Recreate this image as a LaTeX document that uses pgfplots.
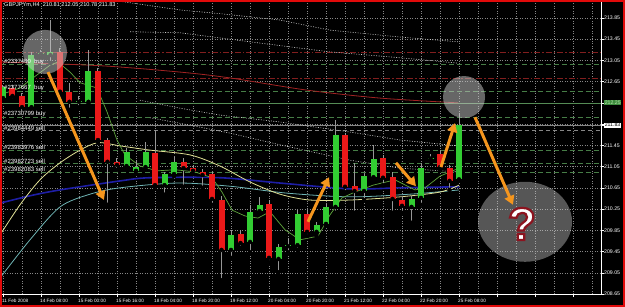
\documentclass[border=0pt]{standalone}
\usepackage{fontspec}
\setmainfont{Liberation Sans}
\usepackage{pgfplots}
\pgfplotsset{compat=1.18}
\usepackage{pgfplotstable}
\usetikzlibrary{arrows.meta}
\definecolor{cgreen}{RGB}{50,205,50}
\definecolor{cred}{RGB}{235,25,25}
\definecolor{wick}{RGB}{150,150,150}
\definecolor{mared}{RGB}{160,35,35}
\definecolor{mayel}{RGB}{225,225,150}
\definecolor{mablue}{RGB}{30,30,165}
\definecolor{macyan}{RGB}{110,180,180}
\definecolor{magreen}{RGB}{95,165,60}
\definecolor{ordgreen}{RGB}{70,125,70}
\definecolor{slred}{RGB}{130,30,30}
\definecolor{lvlgreen}{RGB}{85,140,85}
\definecolor{gridc}{RGB}{135,135,135}
\definecolor{arrowc}{RGB}{245,150,30}
\definecolor{circc}{RGB}{205,205,205}
\definecolor{bred}{RGB}{225,10,10}
\definecolor{boxgreen}{RGB}{60,140,60}
\definecolor{boxgtext}{RGB}{185,230,175}

\pgfplotstableread{
i o h l c
0 212.34 212.59 212.30 212.55
3 212.17 213.21 212.12 213.15
4 213.17 213.25 213.10 213.19
5 213.15 213.81 213.00 213.21
8 212.27 212.38 212.17 212.29
9 212.27 213.25 212.23 212.85
13 211.06 211.40 211.02 211.33
14 210.97 211.17 210.91 211.04
15 211.04 211.51 211.00 211.33
17 210.70 210.95 210.52 210.91
18 210.91 211.23 210.87 211.14
24 209.48 209.86 209.33 209.76
26 209.63 210.33 209.44 210.20
27 210.21 210.48 210.18 210.33
29 209.31 209.59 209.06 209.54
30 209.55 209.70 209.44 209.57
31 209.57 210.23 209.48 210.16
33 209.82 210.01 209.74 209.95
34 209.97 210.35 209.93 210.29
35 210.29 211.93 210.18 211.65
38 210.59 210.91 210.42 210.87
39 210.85 211.46 210.80 211.19
43 210.29 210.50 209.99 210.44
44 210.46 211.12 210.33 211.02
45 211.20 211.29 211.14 211.22
48 210.81 212.05 210.78 211.83
}\greenC

\pgfplotstableread{
i o h l c
1 212.53 212.59 212.30 212.38
2 212.38 212.44 212.06 212.17
6 213.21 213.28 212.40 212.46
7 212.46 212.63 212.12 212.27
10 212.85 212.91 211.51 211.55
11 211.55 211.59 210.33 211.14
12 211.14 211.21 210.99 211.08
16 211.31 211.74 210.67 210.70
19 211.14 211.21 210.67 211.02
20 211.02 211.08 210.91 210.97
21 210.95 211.01 210.65 210.89
22 210.91 210.95 210.33 210.44
23 210.42 210.50 208.91 209.48
25 209.78 209.86 209.52 209.61
28 210.35 210.42 209.25 209.33
32 210.16 210.23 209.74 209.82
36 211.65 211.68 210.57 210.67
37 210.68 211.12 210.18 210.59
40 211.21 211.27 210.70 210.84
41 210.85 210.95 210.18 210.44
42 210.42 210.50 210.18 210.31
46 211.29 211.36 210.99 211.04
47 211.02 211.08 210.61 210.78
}\redC

\begin{document}
\begin{tikzpicture}
\path[use as bounding box] (0,0) rectangle (625pt,307pt);
\fill[black] (0,0) rectangle (625pt,307pt);
\begin{axis}[
  at={(2pt,13pt)}, anchor=south west,
  scale only axis, width=599pt, height=292pt,
  xmin=-0.105, xmax=62.947, ymin=208.65, ymax=214.15,
  axis x line*=bottom, axis y line*=right,
  axis line style={white, line width=0.6pt, -},
  xtick={0,4,...,60},
  xticklabels={11 Feb 2008,14 Feb 08:00,15 Feb 00:00,15 Feb 16:00,18 Feb 04:00,18 Feb 20:00,19 Feb 12:00,20 Feb 04:00,20 Feb 20:00,21 Feb 12:00,22 Feb 04:00,22 Feb 20:00,25 Feb 08:00,{},{},{}},
  minor xtick={2,6,...,62},
  ytick={208.65,209.05,209.45,209.85,210.25,210.65,211.05,211.45,211.85,212.25,212.65,213.05,213.45,213.85},
  yticklabels={208.65,209.05,209.45,209.85,210.25,210.65,211.05,211.45,{},{},212.65,213.05,213.45,213.85},
  extra y ticks={211.83,212.25},
  extra y tick labels={{\setlength{\fboxsep}{0.6pt}\colorbox{white}{\textcolor{black}{211.83}}},{\setlength{\fboxsep}{0.6pt}\colorbox{boxgreen}{\textcolor{boxgtext}{212.25}}}},
  extra y tick style={grid=none},
  grid=both,
  major grid style={gridc, line width=0.5pt, dash pattern=on 0.9pt off 1.6pt},
  minor grid style={gridc, line width=0.5pt, dash pattern=on 0.9pt off 1.6pt},
  tick align=outside, major tick length=3pt, minor tick length=0pt,
  tick style={white, line width=0.5pt},
  xticklabel style={anchor=north west, inner sep=0pt, xshift=-1pt, yshift=-1.5pt, font=\fontsize{4.7}{5}\selectfont, text=white},
  yticklabel style={anchor=west, inner sep=0pt, xshift=0pt, font=\fontsize{5.2}{5.5}\selectfont, text=white},
  clip=true,
]
% horizontal level / order lines
\addplot[slred, line width=0.8pt, dash pattern=on 6pt off 2pt on 1.5pt off 2pt] coordinates {(-1,213.21) (64,213.21)};
\addplot[slred, line width=0.8pt, dash pattern=on 6pt off 2pt on 1.5pt off 2pt] coordinates {(-1,212.72) (64,212.72)};
\addplot[ordgreen, line width=0.6pt, dash pattern=on 5pt off 3pt] coordinates {(-1,212.98) (64,212.98)};
\addplot[ordgreen, line width=0.6pt, dash pattern=on 5pt off 3pt] coordinates {(-1,212.47) (64,212.47)};
\addplot[ordgreen, line width=0.6pt, dash pattern=on 5pt off 3pt] coordinates {(-1,211.98) (64,211.98)};
\addplot[gridc, line width=0.6pt, dash pattern=on 4pt off 3pt] coordinates {(-1,211.74) (64,211.74)};
\addplot[ordgreen, line width=0.6pt, dash pattern=on 5pt off 3pt] coordinates {(-1,211.36) (64,211.36)};
\addplot[ordgreen, line width=0.6pt, dash pattern=on 5pt off 3pt] coordinates {(-1,211.12) (64,211.12)};
\addplot[ordgreen, line width=0.6pt, dash pattern=on 5pt off 3pt] coordinates {(-1,210.95) (64,210.95)};
\addplot[lvlgreen, line width=0.7pt] coordinates {(-1,212.25) (64,212.25)};
\addplot[gridc, line width=0.6pt] coordinates {(-1,211.83) (64,211.83)};
% envelope-like dotted lines
\addplot[white!80!black, line width=0.6pt, dash pattern=on 1pt off 1.5pt] coordinates {(11.26,214.19) (18.63,214.00) (22.84,213.93) (29.16,213.81) (34.42,213.62) (41.79,213.49) (47.89,213.40)};
\addplot[white!80!black, line width=0.6pt, dash pattern=on 1pt off 1.5pt] coordinates {(13.37,213.59) (18.63,213.57) (26.0,213.40) (34.42,213.21) (41.79,213.10) (47.79,213.00)};
\addplot[white!80!black, line width=0.6pt, dash pattern=on 1pt off 1.5pt] coordinates {(14.42,212.30) (18.63,212.15) (22.84,212.02) (29.16,211.89) (36.53,211.70) (41.79,211.55) (47.89,211.44)};
\addplot[white!80!black, line width=0.6pt, dash pattern=on 1pt off 1.5pt] coordinates {(15.47,211.97) (19.68,211.83) (23.89,211.68) (29.16,211.46) (36.53,211.17) (41.79,211.02) (47.89,210.95)};
% moving averages
\addplot[mared, line width=0.8pt, smooth] coordinates {(-0.32,213.02) (10.21,212.95) (18.63,212.83) (23.89,212.72) (32.0,212.49) (39.68,212.34) (47.9,212.25)};
\addplot[mablue, line width=1.6pt, smooth] coordinates {(-0.32,210.36) (2.84,210.50) (6.0,210.61) (12.32,210.78) (15.47,210.84) (22.84,210.84) (29.16,210.74) (36.53,210.63) (41.79,210.65) (48.0,210.67)};
\addplot[macyan, line width=0.8pt, smooth] coordinates {(-0.32,208.95) (2.84,209.67) (6.0,210.29) (9.16,210.53) (12.32,210.65) (18.32,210.74) (23.89,210.68) (29.89,210.55) (36.53,210.48) (42.84,210.53) (48.0,210.61)};
\addplot[mayel, line width=0.8pt, smooth] coordinates {(-0.32,209.76) (1.79,210.33) (3.89,210.80) (6.0,211.12) (8.11,211.36) (10.0,211.50) (12.32,211.44) (15.47,211.36) (19.68,211.27) (22.84,211.06) (26.0,210.76) (29.16,210.53) (32.3,210.42) (36.53,210.42) (41.79,210.48) (46.0,210.57) (48.0,210.70)};
\addplot[magreen, line width=0.7pt] coordinates {(-0.32,212.40) (1.79,212.53) (3.16,212.72) (4.95,212.96) (5.79,213.02) (7.05,212.83) (8.11,212.63) (9.89,212.53) (10.95,212.08) (12.0,211.55) (12.84,211.27) (14.42,211.06) (16.21,210.97) (18.11,210.99) (20.21,210.95) (22.0,210.84) (23.05,210.57) (24.11,210.23) (25.47,210.12) (26.84,210.08) (28.1,210.20) (29.68,209.86) (31.26,209.67) (33.16,209.74) (34.42,210.14) (35.68,210.46) (37.05,210.57) (38.95,210.70) (41.26,210.80) (43.37,210.61) (44.42,210.65) (46.0,210.87) (48.0,211.02)};
% wicks
\addplot[only marks, mark=none, error bars/.cd, y dir=plus, y explicit, error mark=none, error bar style={wick, line width=1pt}] table[x=i, y=l, y error plus expr=\thisrow{h}-\thisrow{l}] {\greenC};
\addplot[only marks, mark=none, error bars/.cd, y dir=plus, y explicit, error mark=none, error bar style={wick, line width=1pt}] table[x=i, y=l, y error plus expr=\thisrow{h}-\thisrow{l}] {\redC};
% bodies
\addplot[only marks, mark=none, error bars/.cd, y dir=plus, y explicit, error mark=none, error bar style={cgreen, line width=6pt}] table[x=i, y=o, y error plus expr=\thisrow{c}-\thisrow{o}] {\greenC};
\addplot[only marks, mark=none, error bars/.cd, y dir=plus, y explicit, error mark=none, error bar style={cred, line width=6pt}] table[x=i, y=c, y error plus expr=\thisrow{o}-\thisrow{c}] {\redC};
% annotation anchors
\coordinate (c1) at (axis cs:4.42,213.21);
\coordinate (c2) at (axis cs:48.53,212.36);
\coordinate (c3) at (axis cs:54.95,210.01);
\coordinate (q) at (axis cs:54.63,209.97);
\coordinate (a1s) at (axis cs:4.74,212.83);
\coordinate (a1e) at (axis cs:10.63,210.42);
\coordinate (a2s) at (axis cs:32.1,210.01);
\coordinate (a2e) at (axis cs:34.32,210.85);
\coordinate (a3s) at (axis cs:41.37,211.12);
\coordinate (a3e) at (axis cs:43.47,210.68);
\coordinate (a4s) at (axis cs:46.1,211.04);
\coordinate (a4e) at (axis cs:47.58,211.87);
\coordinate (a5s) at (axis cs:49.68,211.98);
\coordinate (a5e) at (axis cs:53.68,210.33);
\end{axis}
% translucent circles
\fill[circc, fill opacity=0.5] (c1) circle (22pt);
\fill[circc, fill opacity=0.5] (c2) circle (21pt);
\fill[circc, fill opacity=0.42] (c3) ellipse (47pt and 40pt);
% arrows
\foreach \s/\e in {a1s/a1e,a2s/a2e,a3s/a3e,a4s/a4e,a5s/a5e}
  \draw[arrowc, line width=3pt, -{Triangle[width=10pt,length=9pt]}] (\s) -- (\e);
% question mark: white fill, dark red outline (text render mode 2)
\node[text=white, font=\fontsize{46}{46}\selectfont\bfseries] at (q) {\special{pdf:literal direct 2 Tr 2.2 w 0.55 0.08 0.12 RG}?\special{pdf:literal direct 0 Tr}};
% header and order labels
\node[anchor=west, inner sep=0pt, text=white, font=\fontsize{5.6}{6}\selectfont] at (4pt,302pt) {GBPJPYm,H4\ \ 210.81 212.05 210.78 211.83};
\begin{scope}[every node/.style={anchor=west, inner sep=0pt, text=white, font=\fontsize{6}{6}\selectfont}]
\node at (4pt,245pt) {\#2337400\ \ buy};
\node at (4pt,219pt) {\#2377667\ \ buy};
\node at (4pt,193pt) {\#23730799 buy};
\node at (4pt,179pt) {\#23984449 sell};
\node at (4pt,160pt) {\#23983976 sell};
\node at (4pt,146pt) {\#23982723 sell};
\node at (4pt,138pt) {\#23982083 sell};
\end{scope}
% red frame
\draw[bred, line width=2pt] (1pt,1pt) rectangle (624pt,306pt);
\end{tikzpicture}
\end{document}
